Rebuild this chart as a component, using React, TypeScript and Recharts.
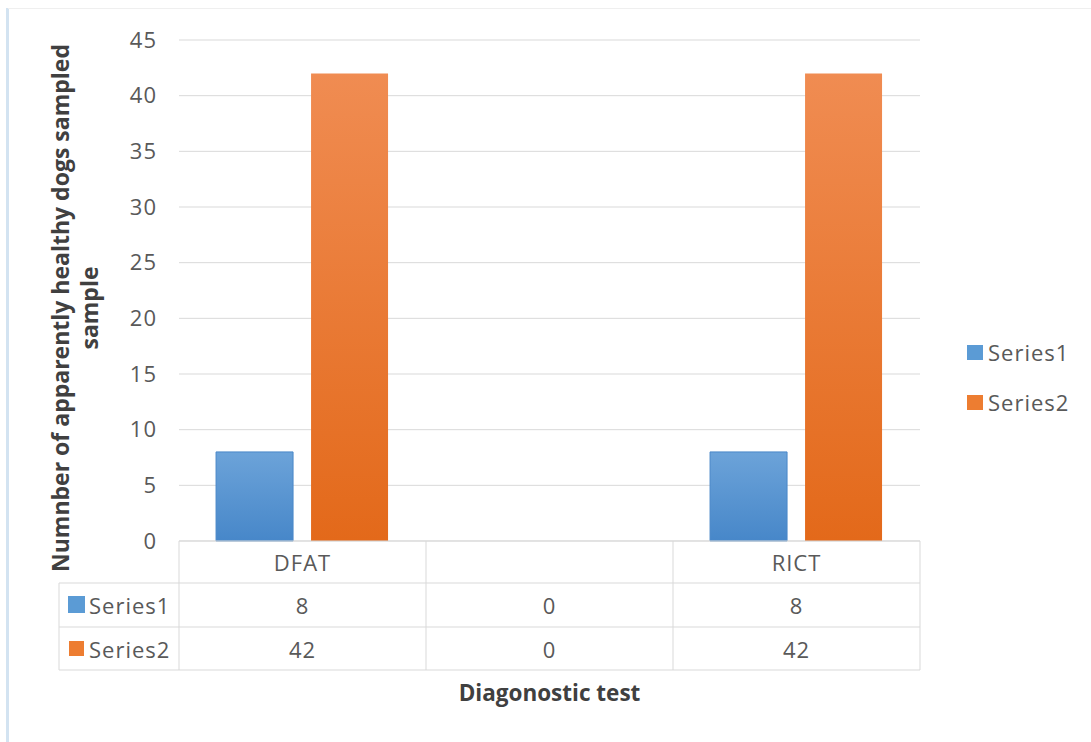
import React from 'react';
import { BarChart, Bar, XAxis, YAxis, CartesianGrid } from 'recharts';

const categories = ['DFAT', '', 'RICT'];
const series1 = [8, 0, 8];
const series2 = [42, 0, 42];
const seriesNames = ['Series1', 'Series2'];
const yTicks = [0, 5, 10, 15, 20, 25, 30, 35, 40, 45];
const yTitleLine1 = 'Numnber of apparently healthy dogs sampled';
const yTitleLine2 = 'sample';
const xTitle = 'Diagonostic test';

const data = categories.map((c, i) => ({ category: c, s1: series1[i], s2: series2[i] }));

const FONT = '"Open Sans", sans-serif';
const FS = 22;
const LS = 1;
const TEXT = '#595959';
const TITLE = '#404040';
const GRID = '#d9d9d9';
const BLUE = '#5b9bd5';
const ORANGE = '#ed7d31';

const W = 1091;
const H = 742;
const PLOT_LEFT = 179;
const PLOT_RIGHT = 920;
const PLOT_TOP = 40;
const PLOT_BOTTOM = 541;
const ROW1 = 583;
const ROW2 = 627;
const ROW3 = 670;
const HEADER_LEFT = 59;
const HALF = (PLOT_RIGHT - PLOT_LEFT) / categories.length / 2;

const T = (p: any) => (
  <text
    dominantBaseline="central"
    fontFamily={FONT}
    fontSize={FS}
    letterSpacing={LS}
    fill={TEXT}
    {...p}
  />
);

const TableTick = (props: any) => {
  const { x, payload } = props;
  let idx = categories.indexOf(payload.value);
  if (typeof payload.index === 'number') idx = payload.index;
  const l = x - HALF;
  const r = x + HALF;
  return (
    <g>
      {idx === 0 && (
        <g>
          <line x1={HEADER_LEFT} x2={l} y1={ROW1} y2={ROW1} stroke={GRID} />
          <line x1={HEADER_LEFT} x2={l} y1={ROW2} y2={ROW2} stroke={GRID} />
          <line x1={HEADER_LEFT} x2={l} y1={ROW3} y2={ROW3} stroke={GRID} />
          <line x1={HEADER_LEFT} x2={HEADER_LEFT} y1={ROW1} y2={ROW3} stroke={GRID} />
          <line x1={l} x2={l} y1={PLOT_BOTTOM} y2={ROW3} stroke={GRID} />
          <rect x={68} y={596} width={17} height={17} fill={BLUE} />
          <rect x={69} y={641} width={15} height={15} fill={ORANGE} />
          <T x={89} y={(ROW1 + ROW2) / 2}>{seriesNames[0]}</T>
          <T x={89} y={(ROW2 + ROW3) / 2}>{seriesNames[1]}</T>
        </g>
      )}
      <line x1={r} x2={r} y1={PLOT_BOTTOM} y2={ROW3} stroke={GRID} />
      <line x1={l} x2={r} y1={ROW1} y2={ROW1} stroke={GRID} />
      <line x1={l} x2={r} y1={ROW2} y2={ROW2} stroke={GRID} />
      <line x1={l} x2={r} y1={ROW3} y2={ROW3} stroke={GRID} />
      <T x={x} y={(PLOT_BOTTOM + ROW1) / 2} textAnchor="middle">{payload.value}</T>
      <T x={x} y={(ROW1 + ROW2) / 2} textAnchor="middle">{series1[idx]}</T>
      <T x={x} y={(ROW2 + ROW3) / 2} textAnchor="middle">{series2[idx]}</T>
    </g>
  );
};

export default function App() {
  return (
    <div style={{ position: 'absolute', left: 0, top: 0, width: W, height: H, background: '#fff' }}>
      <div style={{ position: 'absolute', left: 6, top: 8, width: 3, height: H - 8, background: '#d3e3f1' }} />
      <div style={{ position: 'absolute', left: 8, top: 8, width: W - 8, height: 1, background: '#efefef' }} />
      <BarChart
        width={W}
        height={H}
        data={data}
        margin={{ top: PLOT_TOP, right: W - PLOT_RIGHT, left: PLOT_LEFT - 80, bottom: 0 }}
        barCategoryGap="15%"
        barGap={18}
      >
        <defs>
          <linearGradient id="gBlue" x1="0" y1="0" x2="0" y2="1">
            <stop offset="0%" stopColor="#6ca3d9" />
            <stop offset="100%" stopColor="#4787c9" />
          </linearGradient>
          <linearGradient id="gOrange" x1="0" y1="0" x2="0" y2="1">
            <stop offset="0%" stopColor="#f08c52" />
            <stop offset="100%" stopColor="#e3691a" />
          </linearGradient>
        </defs>
        <CartesianGrid vertical={false} stroke={GRID} />
        <XAxis
          dataKey="category"
          height={H - PLOT_BOTTOM}
          axisLine={{ stroke: GRID }}
          tickLine={false}
          interval={0}
          tick={<TableTick />}
          label={{
            content: (p: any) => {
              const vb = p.viewBox || { x: PLOT_LEFT, width: PLOT_RIGHT - PLOT_LEFT };
              return (
                <text x={vb.x + vb.width / 2} y={692} textAnchor="middle" dominantBaseline="central" fontFamily={FONT} fontSize={22.5} fontWeight="bold" fill={TITLE}>
                  {xTitle}
                </text>
              );
            },
          }}
        />
        <YAxis
          width={80}
          domain={[0, 45]}
          ticks={yTicks}
          axisLine={false}
          tickLine={false}
          tickSize={0}
          tickMargin={22}
          tick={{ fontFamily: FONT, fontSize: FS, fill: TEXT, letterSpacing: LS }}
          label={{
            content: () => (
              <g fontFamily={FONT} fontSize={23} fontWeight="bold" fill={TITLE}>
                <text x={60} y={308} textAnchor="middle" dominantBaseline="central" transform="rotate(-90 60 308)">
                  {yTitleLine1}
                </text>
                <text x={89} y={308} textAnchor="middle" dominantBaseline="central" transform="rotate(-90 89 308)">
                  {yTitleLine2}
                </text>
              </g>
            ),
          }}
        />
        <Bar dataKey="s1" name={seriesNames[0]} fill="url(#gBlue)" stroke="#4a88c8" strokeWidth={1} isAnimationActive={false} />
        <Bar dataKey="s2" name={seriesNames[1]} fill="url(#gOrange)" isAnimationActive={false} />
      </BarChart>
      <div style={{ position: 'absolute', left: 967, top: 327, fontFamily: FONT, fontSize: FS, letterSpacing: LS, color: TEXT }}>
        {seriesNames.map((n, i) => (
          <div key={n} style={{ display: 'flex', alignItems: 'center', height: 50 }}>
            <span style={{ display: 'inline-block', width: 16, height: 15, background: i === 0 ? BLUE : ORANGE, marginRight: 5 }} />
            <span>{n}</span>
          </div>
        ))}
      </div>
    </div>
  );
}
